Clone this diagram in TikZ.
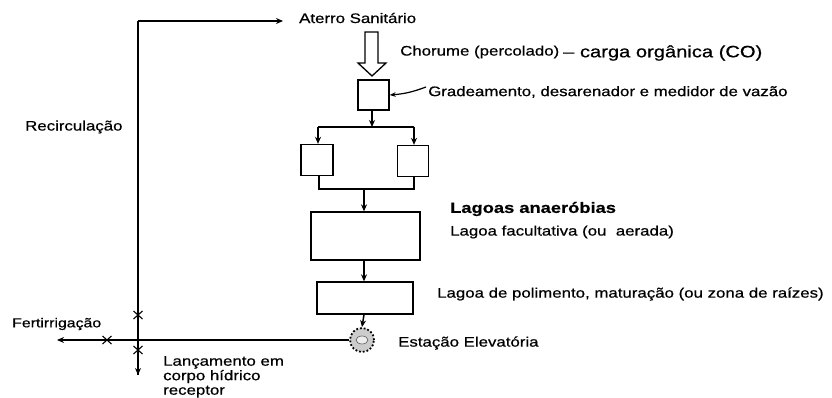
\documentclass[tikz,border=0pt]{standalone}
\usepackage{fontspec}
\setmainfont{Liberation Sans}[FakeStretch=1.22, FakeBold=0.6]
\usetikzlibrary{arrows.meta}
\tikzset{
  ln/.style={line width=1.5pt, black},
  arr/.style={ln, -{Stealth[length=7pt,width=6pt]}},
  boxx/.style={draw, line width=1.3pt, inner sep=0pt},
  lbl/.style={inner sep=0pt, anchor=west, font=\fontsize{13.8}{16}\selectfont},
  xmark/.style={line width=1.1pt}
}
\begin{document}
\begin{tikzpicture}[x=1pt,y=-1pt]
\useasboundingbox (0,0) rectangle (832,398);
\fill[white] (0,0) rectangle (832,398);

% boxes
\node[boxx, minimum width=31pt, minimum height=30pt] (grade) at (373.5,95) {};
\node[boxx, minimum width=32pt, minimum height=31pt] (left) at (317,160) {};
\node[boxx, minimum width=31pt, minimum height=31pt] (right) at (413,161) {};
\node[boxx, minimum width=109pt, minimum height=48pt] (facult) at (365.5,236) {};
\node[boxx, minimum width=96pt, minimum height=32pt] (polim) at (365,298) {};
\node[circle, draw, line width=1.8pt, dotted, fill=gray!40, minimum size=24pt, inner sep=0pt] (pump) at (362,340) {};
\fill[gray!15] (362,340) ellipse (6pt and 4pt);
\draw[line width=0.6pt, gray!70!black] (362,340) ellipse (6pt and 4pt);

% labels
\node[lbl] (aterro) at (299,18) {Aterro Sanitário};
\node[lbl] (chorume) at (400,52) {Chorume (percolado)};
\node[lbl, font=\fontsize{16.5}{18}\selectfont] (carga) at (563,53) {– carga orgânica (CO)};
\node[lbl] (gradelbl) at (428,92) {Gradeamento, desarenador e medidor de vazão};
\node[lbl, font=\fontsize{15}{17}\selectfont\bfseries] (anaer) at (450,209) {Lagoas anaeróbias};
\node[lbl] (faclbl) at (450,232) {Lagoa facultativa (ou~~aerada)};
\node[lbl] (pollbl) at (437,294) {Lagoa de polimento, maturação (ou zona de raízes)};
\node[lbl] (estlbl) at (398,343) {Estação Elevatória};
\node[lbl] (recirc) at (25,127) {Recirculação};
\node[lbl, font=\fontsize{13}{15}\selectfont] (fert) at (12,324) {Fertirrigação};
\node[lbl, anchor=north west, align=left, font=\fontsize{13.8}{14.5}\selectfont] (lanc) at (163,356) {Lançamento em\\corpo hídrico\\receptor};

% hollow arrow
\draw[line width=1.3pt, fill=white] (365,32) -- (378,32) -- (378,63) -- (386,63) -- (372,76) -- (358,63) -- (365,63) -- cycle;

% pointer
\draw[line width=1.2pt, -{Stealth[length=6pt,width=4.5pt]}] (gradelbl.west) ++(-2,-5) to[bend left=8] (grade.east);

% flow
\coordinate (br) at (372,127);
\coordinate (bl) at (318,127);
\coordinate (brr) at (414,127);
\coordinate (ml) at (319,189);
\coordinate (mr) at (414,189);
\coordinate (mc) at (364,189);
\draw[arr] (grade.south -| br) -- (br);
\draw[ln] (bl) -- (brr);
\draw[arr] (bl) -- (bl |- left.north);
\draw[arr] (brr) -- (brr |- right.north);
\draw[ln] (ml |- left.south) -- (ml) -- (mr) -- (mr |- right.south);
\draw[arr] (mc) -- (mc |- facult.north);
\draw[arr] (mc |- facult.south) -- (mc |- polim.north);
\draw[arr] (mc |- polim.south) -- (pump.north);

% recirculation / outlets
\coordinate (topL) at (138,21);
\coordinate (botL) at (138,375);
\coordinate (fertEnd) at (57,340);
\coordinate (aterroEnd) at (283,21);
\draw[ln] (botL) -- (topL);
\draw[arr] (topL) -- (aterroEnd);
\draw[arr] (138,340) -- (botL);
\draw[arr] (pump.west) -- (fertEnd);

% valve marks
\foreach \px/\py in {138/315, 138/350, 107/340}{
  \draw[xmark] (\px-4.5,\py-4) -- (\px+4.5,\py+4);
  \draw[xmark] (\px-4.5,\py+4) -- (\px+4.5,\py-4);
}
\end{tikzpicture}
\end{document}
